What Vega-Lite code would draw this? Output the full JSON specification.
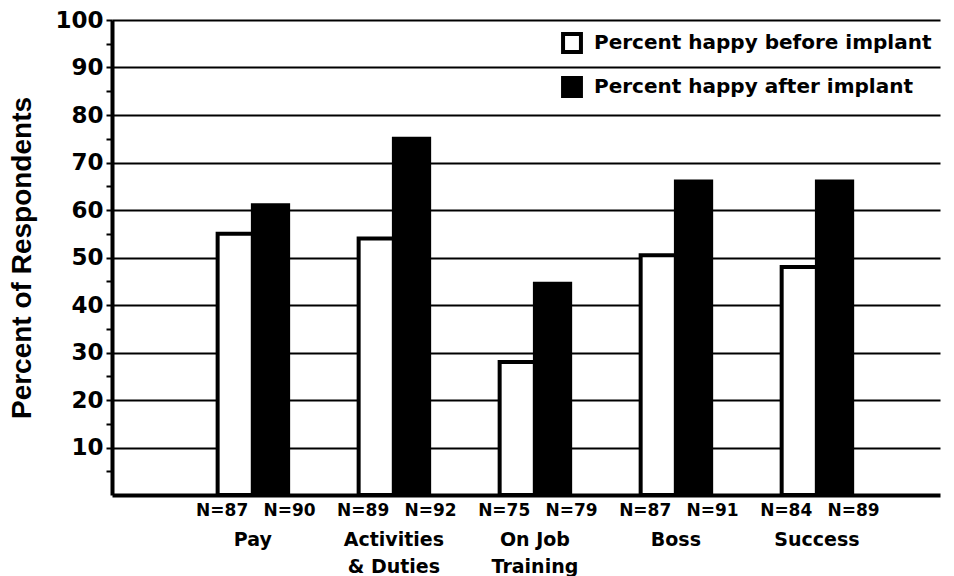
{
  "$schema": "https://vega.github.io/schema/vega-lite/v6.json",
  "width": 828,
  "height": 475,
  "autosize": {"type": "none"},
  "padding": {"left": 112, "top": 20, "right": 14, "bottom": 81},
  "background": "white",
  "config": {"view": {"stroke": null}, "font": "DejaVu Sans"},
  "data": {
    "values": [
      {"category": "Pay", "series": "Percent happy before implant", "value": 55, "n": "N=87"},
      {"category": "Pay", "series": "Percent happy after implant", "value": 61, "n": "N=90"},
      {"category": "Activities & Duties", "series": "Percent happy before implant", "value": 54, "n": "N=89"},
      {"category": "Activities & Duties", "series": "Percent happy after implant", "value": 75, "n": "N=92"},
      {"category": "On Job Training", "series": "Percent happy before implant", "value": 28, "n": "N=75"},
      {"category": "On Job Training", "series": "Percent happy after implant", "value": 44.5, "n": "N=79"},
      {"category": "Boss", "series": "Percent happy before implant", "value": 50.5, "n": "N=87"},
      {"category": "Boss", "series": "Percent happy after implant", "value": 66, "n": "N=91"},
      {"category": "Success", "series": "Percent happy before implant", "value": 48, "n": "N=84"},
      {"category": "Success", "series": "Percent happy after implant", "value": 66, "n": "N=89"}
    ]
  },
  "resolve": {"axis": {"y": "independent"}},
  "encoding": {
    "x": {
      "field": "category",
      "type": "nominal",
      "sort": ["Pay", "Activities & Duties", "On Job Training", "Boss", "Success"],
      "scale": {"paddingInner": 0.5, "paddingOuter": 0.686, "align": 0.546},
      "axis": {
        "title": null,
        "domain": true,
        "domainWidth": 4,
        "domainColor": "black",
        "ticks": false,
        "grid": false,
        "labelAngle": 0,
        "labelFont": "DejaVu Sans",
        "labelFontWeight": "bold",
        "labelFontSize": 19,
        "labelColor": "black",
        "labelPadding": 35,
        "labelBaseline": "top",
        "labelLineHeight": 27,
        "labelExpr": "datum.value == 'Activities & Duties' ? ['Activities', '& Duties'] : datum.value == 'On Job Training' ? ['On Job', 'Training'] : datum.value"
      }
    },
    "xOffset": {
      "field": "series",
      "type": "nominal",
      "scale": {"domain": ["Percent happy before implant", "Percent happy after implant"], "paddingInner": 0, "paddingOuter": 0}
    }
  },
  "layer": [
    {
      "mark": {"type": "bar", "stroke": "black", "strokeWidth": 4, "strokeJoin": "miter"},
      "encoding": {
        "y": {
          "field": "value",
          "type": "quantitative",
          "scale": {"domain": [0, 100], "nice": false},
          "axis": {
            "orient": "left",
            "title": "Percent of Respondents",
            "titleFont": "Liberation Sans",
            "titleFontSize": 28,
            "titleFontWeight": "bold",
            "titleColor": "black",
            "titlePadding": 18,
            "values": [10, 20, 30, 40, 50, 60, 70, 80, 90, 100],
            "labelOverlap": false,
            "labelFont": "DejaVu Sans",
            "labelFontWeight": "bold",
            "labelFontSize": 23,
            "labelColor": "black",
            "labelPadding": 3,
            "tickSize": 6,
            "tickWidth": 2,
            "tickColor": "black",
            "domainWidth": 4,
            "domainColor": "black",
            "grid": true,
            "gridColor": "black",
            "gridWidth": 2,
            "gridOpacity": 1
          }
        },
        "fill": {
          "field": "series",
          "type": "nominal",
          "scale": {"domain": ["Percent happy before implant", "Percent happy after implant"], "range": ["white", "black"]},
          "legend": {
            "orient": "none",
            "legendX": 449,
            "legendY": 12,
            "title": null,
            "padding": 0,
            "symbolType": "square",
            "symbolSize": 320,
            "symbolStrokeWidth": 4,
            "symbolStrokeColor": "black",
            "symbolOpacity": 1,
            "labelFont": "DejaVu Sans",
            "labelFontWeight": "bold",
            "labelFontSize": 20,
            "labelColor": "black",
            "labelOffset": 11,
            "labelLimit": 0,
            "rowPadding": 10
          }
        }
      }
    },
    {
      "transform": [{"filter": "datum.series == 'Percent happy before implant'"}],
      "mark": {"type": "text", "align": "right", "baseline": "alphabetic", "dx": 13, "dy": 21, "font": "DejaVu Sans", "fontWeight": "bold", "fontSize": 17, "color": "black"},
      "encoding": {
        "y": {
          "datum": 0,
          "type": "quantitative",
          "axis": {
            "orient": "left",
            "title": null,
            "values": [5, 15, 25, 35, 45, 55, 65, 75, 85, 95],
            "labels": false,
            "grid": false,
            "domain": false,
            "tickSize": 6,
            "tickWidth": 2,
            "tickColor": "black",
            "offset": 0
          }
        },
        "text": {"field": "n"}
      }
    },
    {
      "transform": [{"filter": "datum.series == 'Percent happy after implant'"}],
      "mark": {"type": "text", "align": "left", "baseline": "alphabetic", "dx": -7, "dy": 21, "font": "DejaVu Sans", "fontWeight": "bold", "fontSize": 17, "color": "black"},
      "encoding": {"y": {"datum": 0, "type": "quantitative", "axis": null}, "text": {"field": "n"}}
    }
  ]
}
